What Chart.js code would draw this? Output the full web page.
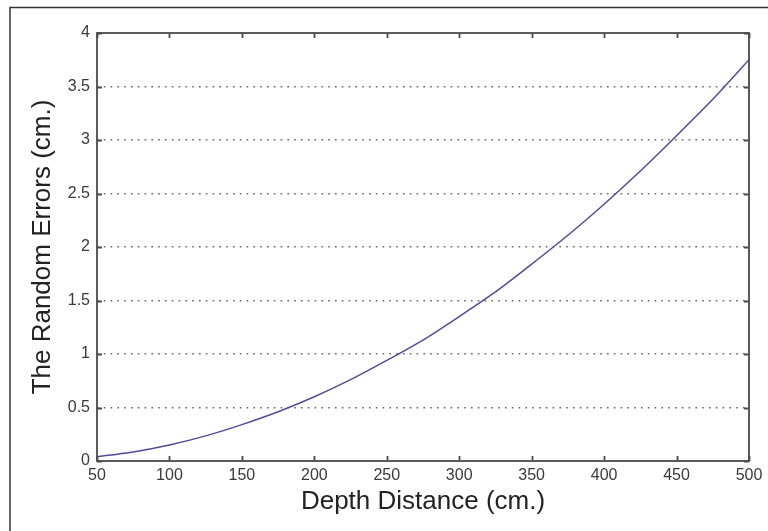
<!DOCTYPE html>
<html>
<head>
<meta charset="utf-8">
<script src="https://cdn.jsdelivr.net/npm/chart.js@4/dist/chart.umd.min.js"></script>
<style>
  html, body { margin: 0; padding: 0; background: #fff; }
  #wrap { width: 768px; height: 531px; position: relative; }
</style>
</head>
<body>
<div id="wrap"><canvas id="chart"></canvas></div>
<script>
// values
const depthCm = [50, 75, 100, 125, 150, 175, 200, 225, 250, 275, 300, 325, 350, 375, 400, 425, 450, 475, 500];
const randomErrCm = [0.04, 0.085, 0.15, 0.235, 0.34, 0.46, 0.60, 0.76, 0.94, 1.13, 1.35, 1.58, 1.84, 2.11, 2.40, 2.71, 3.04, 3.38, 3.75];
const xTicks = [50, 100, 150, 200, 250, 300, 350, 400, 450, 500];
const yTicks = [0, 0.5, 1, 1.5, 2, 2.5, 3, 3.5, 4];

const axisColor = '#4a4a4a';
const FONT = '"Liberation Sans", Arial, sans-serif';

const points = depthCm.map((d, i) => ({ x: d, y: randomErrCm[i] }));

// outer frame + plot box with inward tick marks (matlab style)
const boxPlugin = {
  id: 'box',
  beforeDraw(chart) {
    const { ctx } = chart;
    ctx.save();
    ctx.strokeStyle = '#333';
    ctx.lineWidth = 1.5;
    ctx.strokeRect(10, 7.5, 800, 600);
    ctx.restore();
  },
  afterDatasetsDraw(chart) {
    const { ctx, chartArea: a, scales } = chart;
    const len = 5;
    ctx.save();
    ctx.strokeStyle = axisColor;
    ctx.lineWidth = 1.8;
    ctx.strokeRect(a.left, a.top, a.right - a.left, a.bottom - a.top);
    ctx.beginPath();
    for (const v of xTicks) {
      const px = Math.round(scales.x.getPixelForValue(v)) + 0.5;
      ctx.moveTo(px, a.bottom); ctx.lineTo(px, a.bottom - len);
      ctx.moveTo(px, a.top); ctx.lineTo(px, a.top + len);
    }
    for (const v of yTicks) {
      const py = Math.round(scales.y.getPixelForValue(v)) + 0.5;
      ctx.moveTo(a.left, py); ctx.lineTo(a.left + len, py);
      ctx.moveTo(a.right, py); ctx.lineTo(a.right - len, py);
    }
    ctx.stroke();
    ctx.restore();
  }
};

new Chart(document.getElementById('chart'), {
  type: 'scatter',
  data: {
    datasets: [{
      data: points,
      showLine: true,
      borderColor: '#56499c',
      borderWidth: 1.5,
      pointRadius: 0,
      tension: 0.2,
    }],
  },
  options: {
    responsive: true,
    maintainAspectRatio: false,
    animation: false,
    layout: { padding: { left: 0, top: 33, right: 19, bottom: 0 } },
    plugins: { legend: { display: false }, tooltip: { enabled: false } },
    scales: {
      x: {
        type: 'linear',
        min: 50,
        max: 500,
        afterBuildTicks: (s) => { s.ticks = xTicks.map(v => ({ value: v })); },
        afterFit: (s) => { s.height = 70; },
        grid: { display: false, drawTicks: false },
        border: { display: false },
        ticks: { padding: 5, color: '#3a3a3a', font: { family: FONT, size: 16 }, maxRotation: 0, callback: (v) => String(v) },
        title: {
          display: true,
          text: 'Depth Distance (cm.)',
          color: '#222',
          font: { family: FONT, size: 26 },
          padding: { top: 0, bottom: 14 },
        },
      },
      y: {
        min: 0,
        max: 4,
        afterBuildTicks: (s) => { s.ticks = yTicks.map(v => ({ value: v })); },
        afterFit: (s) => { s.width = 97; },
        grid: {
          drawTicks: false,
          color: (c) => (c.tick && (c.tick.value === 0 || c.tick.value === 4)) ? 'rgba(0,0,0,0)' : '#666',
          lineWidth: 1.6,
        },
        border: { display: false, dash: [1.6, 5.2] },
        ticks: { padding: 7, color: '#3a3a3a', font: { family: FONT, size: 16 }, callback: (v) => String(v) },
        title: {
          display: true,
          text: 'The Random Errors (cm.)',
          color: '#222',
          font: { family: FONT, size: 26 },
          padding: { top: 27, bottom: 0 },
        },
      },
    },
  },
  plugins: [boxPlugin],
});
</script>
</body>
</html>
